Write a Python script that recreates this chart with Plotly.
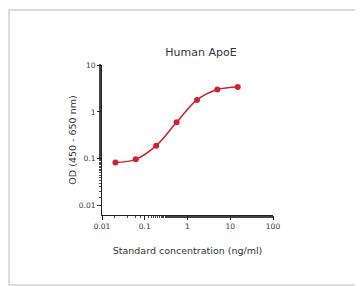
import plotly.graph_objects as go

concentration = [0.0206, 0.0617, 0.185, 0.556, 1.667, 5.0, 15.0]
od_values = [0.083, 0.097, 0.19, 0.60, 1.8, 3.0, 3.4]
x_tickvals = [0.01, 0.1, 1, 10, 100]
x_ticktext = ["0.01", "0.1", "1", "10", "100"]
y_tickvals = [0.01, 0.1, 1, 10]
y_ticktext = ["0.01", "0.1", "1", "10"]

red = "#cc2233"
txt = "#333333"
font_family = "DejaVu Sans"

W, H = 363, 286
L, R, T, B = 94, 98, 57, 79
pw, ph = W - L - R, H - T - B

fig = go.Figure()
fig.add_trace(go.Scatter(
    x=concentration, y=od_values, mode="lines+markers",
    line=dict(color=red, width=1.5, shape="spline", smoothing=1.0),
    marker=dict(color=red, size=6),
    showlegend=False,
))

axis_common = dict(
    type="log", showgrid=False, zeroline=False, showline=True,
    linecolor="#222222", linewidth=1, ticks="outside", ticklen=4,
    tickwidth=1, tickcolor="#222222",
    tickfont=dict(family=font_family, size=7.5, color=txt),
    minor=dict(ticks="outside", ticklen=2, tickcolor="#444444", showgrid=False),
)

fig.update_layout(
    width=W, height=H,
    margin=dict(l=L, r=R, t=T, b=B),
    paper_bgcolor="white", plot_bgcolor="white",
    font=dict(family=font_family, color=txt),
    title=dict(text="Human ApoE", x=193 / W, xanchor="center", xref="container",
               y=1 - 44 / H, yanchor="middle", yref="container",
               font=dict(family=font_family, size=11, color=txt)),
    xaxis=dict(axis_common, range=[-2, 2], tickvals=x_tickvals, ticktext=x_ticktext,
               title=dict(text="Standard concentration (ng/ml)", standoff=17,
                          font=dict(family=font_family, size=9.5, color=txt))),
    yaxis=dict(axis_common, range=[-2.2, 1], tickvals=y_tickvals, ticktext=y_ticktext,
               title=dict(text="OD (450 - 650 nm)", standoff=0,
                          font=dict(family=font_family, size=9.5, color=txt))),
    shapes=[dict(type="rect", xref="paper", yref="paper",
                 x0=(1 - L) / pw, x1=(354 - L) / pw,
                 y0=-(277 - (H - B)) / ph, y1=1 + (T - 2) / ph,
                 line=dict(color="#dddddd", width=2), fillcolor="rgba(0,0,0,0)",
                 layer="below")],
)

fig.write_html("out.html")
